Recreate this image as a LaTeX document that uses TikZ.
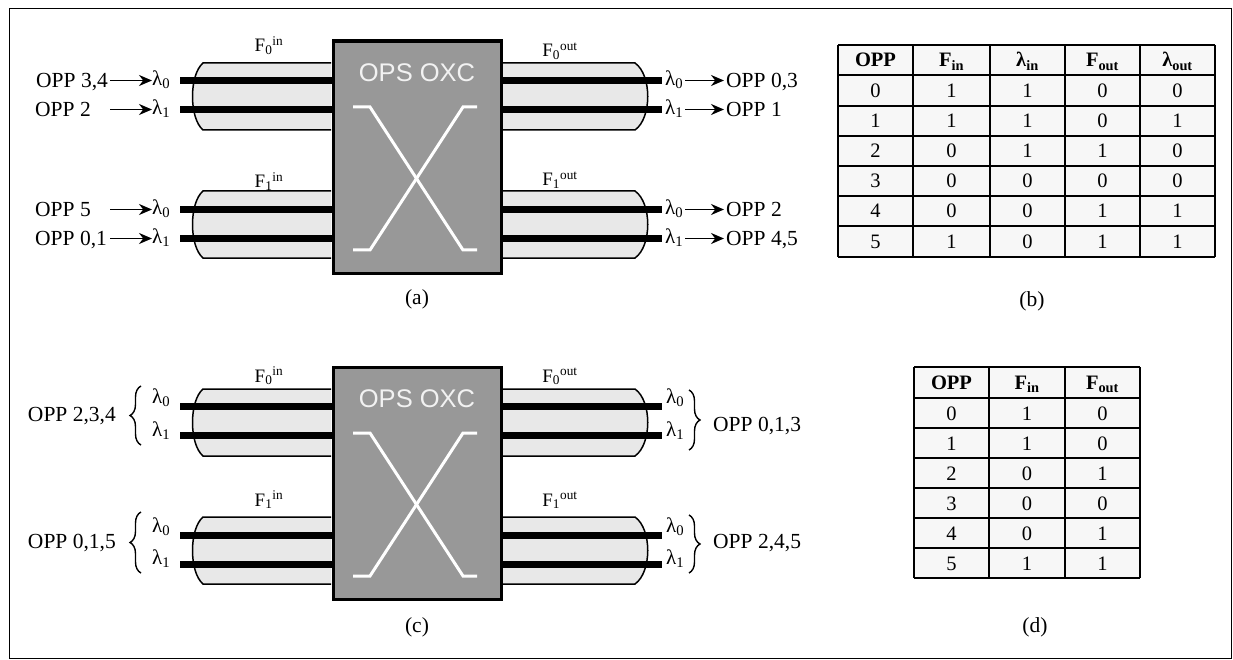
\documentclass[tikz,border=0pt]{standalone}
\usepackage{fontspec}
\setmainfont{Liberation Serif}
\newfontfamily\arialf{Liberation Sans}
\usetikzlibrary{arrows.meta,decorations.pathreplacing}
\definecolor{boxgray}{RGB}{152,152,152}
\definecolor{fibergray}{RGB}{232,232,232}
\definecolor{cellbg}{RGB}{247,247,247}
\definecolor{titlewhite}{RGB}{242,242,242}
\newcommand\oxcunit[2]{%
\begin{scope}[yshift=-#2pt]
  \foreach \t/\b in {63/130,191/258}{
    \path[fiber] (331,\t) -- (203,\t) .. controls (189,{\t+12}) and (189,{\b-12}) .. (203,\b) -- (331,\b);
    \path[fiber] (500,\t) -- (635,\t) .. controls (652,{\t+12}) and (652,{\b-12}) .. (635,\b) -- (500,\b);
  }
  \foreach \y in {80.5,109.5,209.5,238.5}{
    \draw[wl] (180,\y) -- (332,\y);
    \draw[wl] (499,\y) -- (662,\y);
  }
  \node[oxc, minimum width=168pt, minimum height=232pt, anchor=north west] (#1box) at (331.5,39.5) {};
  \node[font=\arialf\fontsize{25.5}{30}\selectfont, text=titlewhite, inner sep=0pt] (#1title) at (417,73) {OPS OXC};
  \draw[xline] (353,107) -- (370,107) -- (463,250) -- (477,250);
  \draw[xline] (477,107) -- (463,107) -- (370,250) -- (353,250);
\end{scope}}
\begin{document}
\begin{tikzpicture}[x=1pt,y=-1pt,
  lbl/.style={font=\fontsize{21.5}{25}\selectfont, inner sep=0pt},
  lam/.style={font=\fontsize{21}{24}\selectfont, inner sep=0pt},
  flab/.style={font=\fontsize{19}{22}\selectfont, inner sep=0pt},
  fiber/.style={fill=fibergray, draw=black, line width=1.5pt},
  wl/.style={line width=7pt, black},
  arr/.style={-{Stealth[length=13pt,width=11pt]}, line width=1.6pt},
  oxc/.style={fill=boxgray, draw=black, line width=3.2pt},
  xline/.style={draw=white, line width=3pt},
  cell/.style={font=\fontsize{20.5}{24}\selectfont, inner sep=0pt},
  hcell/.style={font=\bfseries\fontsize{20.5}{24}\selectfont, inner sep=0pt},
  grid/.style={line width=1.8pt, black},
  br/.style={decorate, decoration={brace, amplitude=11pt}, line width=1.4pt},
]
\useasboundingbox (0,0) rectangle (1233,660);
\draw[line width=1pt] (9.5,8.5) rectangle (1231.5,658.5);

% ---------- (a) ----------
\oxcunit{a}{0}
\node[flab, anchor=base] (a-fi0) at (269,52) {F\textsubscript{0}\textsuperscript{in}};
\node[flab, anchor=base] (a-fi1) at (269,188) {F\textsubscript{1}\textsuperscript{in}};
\node[flab, anchor=base] (a-fo0) at (560,57) {F\textsubscript{0}\textsuperscript{out}};
\node[flab, anchor=base] (a-fo1) at (560,186) {F\textsubscript{1}\textsuperscript{out}};
% input side
\foreach \k/\y/\txt/\xs in {0/80.5/{OPP 3,4}/36, 1/109.5/{OPP 2}/35, 2/209.5/{OPP 5}/35, 3/238.5/{OPP 0,1}/35}{
  \node[lbl, anchor=base west] (a-p\k) at (\xs,{\y+7}) {\txt};
}
\foreach \k/\y/\s in {0/80.5/0, 1/109.5/1, 2/209.5/0, 3/238.5/1}{
  \node[lam, anchor=base west] (a-l\k) at (152,{\y+5}) {λ\textsubscript{\s}};
  \coordinate (a-s\k) at (110,\y);
  \draw[arr] (a-s\k) -- (a-s\k -| a-l\k.west);
}
% output side
\foreach \k/\y/\s/\txt in {0/80.5/0/{OPP 0,3}, 1/109.5/1/{OPP 1}, 2/209.5/0/{OPP 2}, 3/238.5/1/{OPP 4,5}}{
  \node[lam, anchor=base west] (a-o\k) at (665,{\y+5}) {λ\textsubscript{\s}};
  \node[lbl, anchor=base west] (a-q\k) at (726,{\y+7}) {\txt};
  \coordinate (a-e\k) at (724,\y);
  \coordinate (a-t\k) at ([xshift=2pt]a-o\k.east);
  \draw[arr] (a-t\k |- a-e\k) -- (a-e\k);
}
\node[lbl] (a-cap) at (417,299) {(a)};

% ---------- (c) ----------
\oxcunit{c}{326}
\node[flab, anchor=base] (c-fi0) at (269,382) {F\textsubscript{0}\textsuperscript{in}};
\node[flab, anchor=base] (c-fi1) at (269,506) {F\textsubscript{1}\textsuperscript{in}};
\node[flab, anchor=base] (c-fo0) at (560,382) {F\textsubscript{0}\textsuperscript{out}};
\node[flab, anchor=base] (c-fo1) at (560,506) {F\textsubscript{1}\textsuperscript{out}};
\foreach \k/\y/\s in {0/398/0, 1/431/1, 2/527/0, 3/559/1}{
  \node[lam, anchor=west] (c-l\k) at (152,\y) {λ\textsubscript{\s}};
  \node[lam, anchor=west] (c-o\k) at (666,\y) {λ\textsubscript{\s}};
}
\coordinate (c-b0a) at (141,445); \coordinate (c-b0b) at (141,386);
\coordinate (c-b1a) at (141,573); \coordinate (c-b1b) at (141,512);
\draw[br] (c-b0a) -- (c-b0b);
\draw[br] (c-b1a) -- (c-b1b);
\node[lbl, anchor=east] (c-p0) at (116,416) {OPP 2,3,4};
\node[lbl, anchor=east] (c-p1) at (116,543) {OPP 0,1,5};
\coordinate (c-r0a) at (689,390); \coordinate (c-r0b) at (689,450);
\coordinate (c-r1a) at (689,515); \coordinate (c-r1b) at (689,573);
\draw[br] (c-r0a) -- (c-r0b);
\draw[br] (c-r1a) -- (c-r1b);
\node[lbl, anchor=west] (c-q0) at (713,426) {OPP 0,1,3};
\node[lbl, anchor=west] (c-q1) at (713,543) {OPP 2,4,5};
\node[lbl] (c-cap) at (417,627) {(c)};

% ---------- (b) table ----------
\fill[cellbg] (838,45) rectangle (1215,257);
\foreach \yy in {45,75,106,136,166,196,226,257}{ \draw[grid] (838,\yy) -- (1215,\yy); }
\foreach \xx in {838,913,990,1065,1140,1215}{ \draw[grid] (\xx,45) -- (\xx,257); }
\node[hcell, anchor=base] (b-h0) at (875.5,67) {OPP};
\node[hcell, anchor=base] (b-h1) at (951.5,67) {F\textsubscript{in}};
\node[hcell, anchor=base] (b-h2) at (1027.5,67) {λ\textsubscript{in}};
\node[hcell, anchor=base] (b-h3) at (1102.5,67) {F\textsubscript{out}};
\node[hcell, anchor=base] (b-h4) at (1177.5,67) {λ\textsubscript{out}};
\foreach \r/\yc/\a/\bb/\cc/\dd in {0/90.5/1/1/0/0, 1/121/1/1/0/1, 2/151/0/1/1/0, 3/181/0/0/0/0, 4/211/0/0/1/1, 5/241.5/1/0/1/1}{
  \node[cell, anchor=base] (b-\r-0) at (875.5,{\yc+7}) {\r};
  \node[cell, anchor=base] (b-\r-1) at (951.5,{\yc+7}) {\a};
  \node[cell, anchor=base] (b-\r-2) at (1027.5,{\yc+7}) {\bb};
  \node[cell, anchor=base] (b-\r-3) at (1102.5,{\yc+7}) {\cc};
  \node[cell, anchor=base] (b-\r-4) at (1177.5,{\yc+7}) {\dd};
}
\node[lbl] (b-cap) at (1032,301) {(b)};

% ---------- (d) table ----------
\fill[cellbg] (914,367) rectangle (1140,578);
\foreach \yy in {367,398,428,458,488,518,548,578}{ \draw[grid] (914,\yy) -- (1140,\yy); }
\foreach \xx in {914,989,1065,1140}{ \draw[grid] (\xx,367) -- (\xx,578); }
\node[hcell, anchor=base] (d-h0) at (951.5,389) {OPP};
\node[hcell, anchor=base] (d-h1) at (1027,389) {F\textsubscript{in}};
\node[hcell, anchor=base] (d-h2) at (1102.5,389) {F\textsubscript{out}};
\foreach \r/\yc/\a/\bb in {0/413/1/0, 1/443/1/0, 2/473/0/1, 3/503/0/0, 4/533/0/1, 5/563/1/1}{
  \node[cell, anchor=base] (d-\r-0) at (951.5,{\yc+7}) {\r};
  \node[cell, anchor=base] (d-\r-1) at (1027,{\yc+7}) {\a};
  \node[cell, anchor=base] (d-\r-2) at (1102.5,{\yc+7}) {\bb};
}
\node[lbl] (d-cap) at (1035,627) {(d)};
\end{tikzpicture}
\end{document}
